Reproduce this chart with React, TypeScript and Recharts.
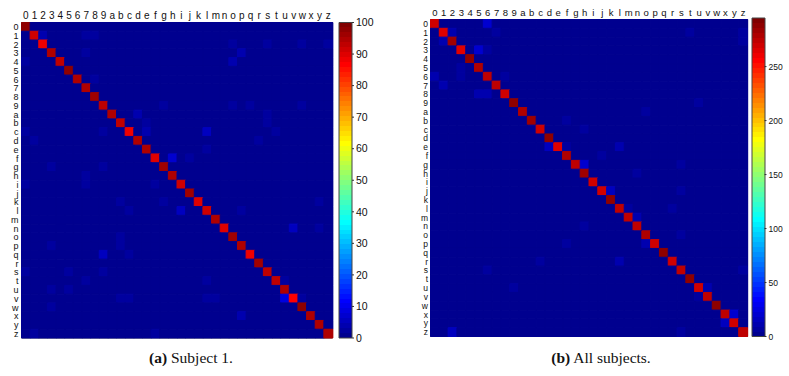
import React from 'react';
import { BarChart, Bar, XAxis, YAxis, Cell, ReferenceArea } from 'recharts';

const LABELS = ['0','1','2','3','4','5','6','7','8','9','a','b','c','d','e','f','g','h','i','j','k','l','m','n','o','p','q','r','s','t','u','v','w','x','y','z'];

// (a) Subject 1 — diagonal (percent) and notable off-diagonal cells [row, col, value]
const DIAG_A = [98,92,89,94,93,97,95,94,96,93,94,93,89,94,95,90,96,94,92,96,90,92,95,90,96,95,89,96,93,93,95,86,98,95,95,94];
const OFF_A: [number, number, number][] = [
  [1,2,4],[1,8,2.5],[1,7,2],[2,24,3],[3,25,4.5],[4,24,4],[2,35,3],[2,32,2],[2,28,2],[15,17,7],[12,21,5],[10,13,3.5],
  [12,14,4],[11,14,2],[9,16,2.5],[9,24,2],[9,26,2],[9,32,2],[10,28,2],[11,28,2],[12,29,2],[12,0,3],[12,9,2],[13,1,2],
  [13,27,2],[14,21,2],[15,19,2],[16,3,2],[16,9,2],[17,7,2],[4,0,2],[3,7,2],[6,8,2],[18,0,2],[18,7,2],[18,15,2],
  [21,18,5.5],[20,16,2],[20,11,2],[21,12,2],[21,25,2],[23,31,5],[23,34,2],[20,34,2],[25,3,2],[24,11,3],[25,11,3],
  [26,9,5],[26,12,2.5],[28,0,2],[28,5,2],[28,9,2.5],[29,7,2],[30,3,2],[30,5,2],[31,11,2],[31,12,2],[31,21,2],
  [31,22,2],[31,30,8.5],[32,3,2],[33,25,4],[35,1,2],[35,15,2],[29,21,2],[29,30,2],[31,32,2]
];
const MAX_A = 100;
const TICKS_A = [0,10,20,30,40,50,60,70,80,90,100];

// (b) All subjects — diagonal counts and notable off-diagonal cells [row, col, value]
const DIAG_B = [270,267,283,265,286,279,274,274,270,288,279,283,270,289,265,279,274,283,270,270,286,274,272,272,279,270,286,270,272,288,270,272,288,272,270,274];
const OFF_B: [number, number, number][] = [
  [0,6,20],[1,2,11],[1,7,7],[2,1,11],[3,5,20],[3,6,7],[5,3,7],[6,0,11],[6,3,7],[7,1,11],[8,5,11],[8,6,11],[6,8,7],
  [1,29,7],[1,35,7],[2,35,7],[9,30,7],[10,24,8],[11,15,7],[12,17,7],[14,13,16],[14,15,7],[14,21,11],[16,17,20],
  [15,19,7],[16,28,7],[17,23,7],[19,20,16],[19,28,7],[21,27,7],[22,23,11],[23,17,7],[24,28,7],[25,15,7],[25,24,11],
  [27,21,11],[27,12,7],[30,9,7],[30,31,11],[31,30,7],[33,34,20],[34,33,16],[35,2,16],[35,28,7],[28,6,7],[28,35,7],[21,22,7]
];
const MAX_B = 295;
const TICKS_B = [0,50,100,150,200,250];

// MATLAB jet(64)
const u = (j: number) => (j < 1 || j > 47 ? 0 : j <= 16 ? j / 16 : j <= 31 ? 1 : (48 - j) / 16);
const jetK = (k: number) => {
  const r = Math.round(u(k - 24) * 255), g = Math.round(u(k - 8) * 255), b = Math.round(u(k + 8) * 255);
  return `rgb(${r},${g},${b})`;
};
const colorOf = (v: number, vmax: number) => jetK(Math.max(1, Math.min(64, Math.floor((v / vmax) * 64) + 1)));

function buildMatrix(diag: number[], off: [number, number, number][]) {
  const m = LABELS.map(() => LABELS.map(() => 0));
  diag.forEach((v, i) => { m[i][i] = v; });
  off.forEach(([r, c, v]) => { m[r][c] = v; });
  return m;
}

const FONT = '"Liberation Sans", Arial, sans-serif';
const rowTicks = LABELS.map((_, i) => i + 0.5);
const stackData = LABELS.map((c) => {
  const o: Record<string, string | number> = { col: c };
  LABELS.forEach((_, i) => { o['r' + i] = 1; });
  return o;
});

type MP = {
  diag: number[]; off: [number, number, number][]; vmax: number;
  width: number; height: number; margin: any; yw: number; xh: number;
  fs: number; yfs: number; xoff: number; yoff: number;
};

function Matrix(p: MP) {
  const mat = buildMatrix(p.diag, p.off);
  return (
    <BarChart width={p.width} height={p.height} data={stackData} margin={p.margin} barCategoryGap={0} barGap={0}>
      <XAxis dataKey="col" orientation="top" interval={0} tickLine={false} axisLine={false} height={p.xh}
        tickSize={0} tickMargin={p.xoff} tick={{ fontSize: p.fs, fill: '#111', fontFamily: FONT }} />
      <YAxis type="number" domain={[0, 36]} reversed ticks={rowTicks} interval={0} width={p.yw}
        tickFormatter={(v: number) => LABELS[Math.floor(v)]} tickLine={false} axisLine={false}
        tickSize={0} tickMargin={p.yoff} tick={{ fontSize: p.yfs, fill: '#111', fontFamily: FONT }} />
      {LABELS.map((_, i) => (
        <Bar key={i} dataKey={'r' + i} stackId="s" isAnimationActive={false}>
          {LABELS.map((__, j) => {
            const f = colorOf(mat[i][j], p.vmax);
            return <Cell key={j} fill={f} stroke={f} strokeWidth={1} />;
          })}
        </Bar>
      ))}
      <ReferenceArea x1="0" x2="z" y1={0} y2={36} fill="none" stroke="#444" strokeWidth={1} ifOverflow="visible" />
    </BarChart>
  );
}

type CP = { id: string; vmax: number; ticks: number[]; width: number; height: number; margin: any; yw: number; fs: number };
function ColorBar(p: CP) {
  return (
    <BarChart width={p.width} height={p.height} data={[{ name: 'c', v: p.vmax }]} margin={p.margin} barCategoryGap={0}>
      <XAxis dataKey="name" hide />
      <YAxis orientation="right" type="number" domain={[0, p.vmax]} ticks={p.ticks} interval={0} width={p.yw}
        axisLine={false} tickSize={2} tickMargin={2} tickLine={{ stroke: '#333' }}
        tick={{ fontSize: p.fs, fill: '#111', fontFamily: FONT }} />
      <Bar dataKey="v" fill={`url(#${p.id})`} stroke="#444" strokeWidth={1} isAnimationActive={false} />
    </BarChart>
  );
}

function JetGradient({ id }: { id: string }) {
  const stops: React.ReactNode[] = [];
  for (let k = 1; k <= 64; k++) {
    const c = jetK(k);
    stops.push(<stop key={'a' + k} offset={`${((k - 1) / 64) * 100}%`} stopColor={c} />);
    stops.push(<stop key={'b' + k} offset={`${(k / 64) * 100}%`} stopColor={c} />);
  }
  return (
    <linearGradient id={id} x1="0" y1="1" x2="0" y2="0">
      {stops}
    </linearGradient>
  );
}

const CAP: React.CSSProperties = { position: 'absolute', top: 349, textAlign: 'center', fontFamily: '"Liberation Serif", "Times New Roman", serif', fontSize: 15.5, color: '#111' };

export default function App() {
  return (
    <div style={{ position: 'absolute', left: 0, top: 0, width: 789, height: 376, background: '#fff', overflow: 'hidden' }}>
      <svg width={0} height={0} style={{ position: 'absolute' }}>
        <defs>
          <JetGradient id="jetGrad" />
        </defs>
      </svg>
      <div style={{ position: 'absolute', left: 0, top: 0 }}>
        <Matrix diag={DIAG_A} off={OFF_A} vmax={MAX_A} width={340} height={345}
          margin={{ top: 0, right: 7.5, bottom: 7, left: 0 }} yw={21.5} xh={22.5} fs={10} yfs={9} xoff={3.5} yoff={3} />
      </div>
      <div style={{ position: 'absolute', left: 335, top: 0 }}>
        <ColorBar id="jetGrad" vmax={MAX_A} ticks={TICKS_A} width={50} height={345}
          margin={{ top: 22.5, right: 0, bottom: 7, left: 4 }} yw={33} fs={10.5} />
      </div>
      <div style={{ position: 'absolute', left: 405, top: 0 }}>
        <Matrix diag={DIAG_B} off={OFF_B} vmax={MAX_B} width={350} height={345}
          margin={{ top: 0, right: 7.5, bottom: 8.5, left: 0 }} yw={25.5} xh={19.5} fs={9.5} yfs={8.5} xoff={4} yoff={2.5} />
      </div>
      <div style={{ position: 'absolute', left: 748, top: 0 }}>
        <ColorBar id="jetGrad" vmax={MAX_B} ticks={TICKS_B} width={41} height={345}
          margin={{ top: 18, right: 0, bottom: 8.5, left: 4 }} yw={24.5} fs={8.5} />
      </div>
      <div style={{ ...CAP, left: 0, width: 382 }}>
        <b>(a)</b> Subject 1.
      </div>
      <div style={{ ...CAP, left: 405, width: 392 }}>
        <b>(b)</b> All subjects.
      </div>
    </div>
  );
}
